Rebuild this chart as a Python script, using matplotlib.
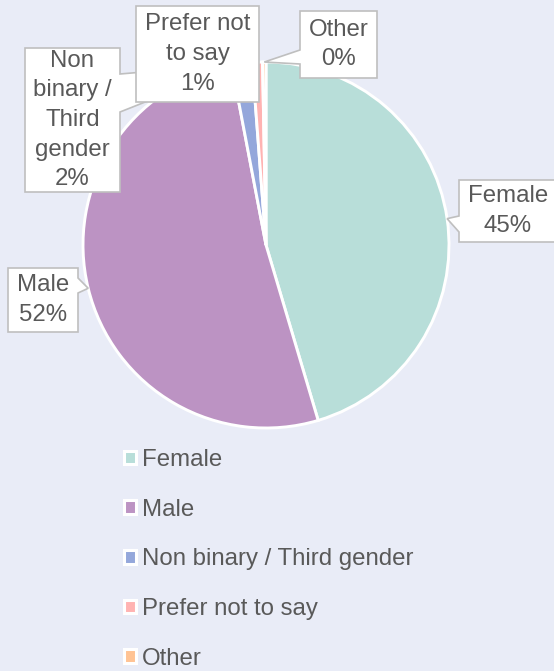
import numpy as np
import matplotlib
matplotlib.use("Agg")
import matplotlib.pyplot as plt
from matplotlib.patches import Polygon, Patch

# ---- data ----
categories = ["Female", "Male", "Non binary / Third gender", "Prefer not to say", "Other"]
values = [45.4, 51.6, 1.8, 0.9, 0.3]
label_lines = ["Female", "Male", "Non\nbinary /\nThird\ngender", "Prefer not\nto say", "Other"]
colors = ["#B8DED9", "#BC93C3", "#94A7DB", "#FFB3B2", "#FFC394"]

BG = "#E9ECF7"
TXT = "#595959"
EDGE = "#BFBFBF"
W, H = 554, 671
FS = 17.3

plt.rcParams['font.family'] = ['Liberation Sans', 'DejaVu Sans']

fig = plt.figure(figsize=(W / 100, H / 100), dpi=100, facecolor=BG)
ax = fig.add_axes([0, 0, 1, 1])
ax.set_facecolor(BG)

CX, CY, R = 266, 245, 183
wedges, _ = ax.pie(values, colors=colors, startangle=90, counterclock=False,
                   center=(CX, H - CY), radius=R,
                   wedgeprops=dict(edgecolor="white", linewidth=2.1))
for w in wedges:
    w.set_zorder(1)
ax.set_xlim(0, W)
ax.set_ylim(0, H)
ax.set_aspect('equal')
ax.axis('off')

# tips of the callouts: mid-angle of each wedge on the pie rim (pixel coords, y down)
tot = sum(values)
cum = np.cumsum([0] + values)
tips = []
for i in range(len(values)):
    mid = (cum[i] + values[i] / 2) / tot * 2 * np.pi
    tips.append((CX + R * np.sin(mid), CY - R * np.cos(mid)))

# callout layout: box (x0, y0, x1, y1) in pixel coords, pointer side & base
layout = [
    dict(box=(459, 180, 557, 242), side='left', base=(216, 232), z=3),
    dict(box=(8, 268, 78, 332), side='right', base=(278, 293), z=3),
    dict(box=(25, 48, 120, 192), side='right', base=(74, 112), z=2),
    dict(box=(136, 6, 259, 102), side=None, base=None, z=4),
    dict(box=(300, 11, 377, 78), side='left', base=(50, 64), z=3),
]


def P(x, y):
    return (x, H - y)


for i, lay in enumerate(layout):
    x0, y0, x1, y1 = lay['box']
    tx, ty = tips[i]
    if lay['side'] == 'left':
        b0, b1 = lay['base']
        pts = [P(x0, y0), P(x1, y0), P(x1, y1), P(x0, y1), P(x0, b1), P(tx, ty), P(x0, b0)]
    elif lay['side'] == 'right':
        b0, b1 = lay['base']
        pts = [P(x0, y0), P(x1, y0), P(x1, b0), P(tx, ty), P(x1, b1), P(x1, y1), P(x0, y1)]
    else:
        pts = [P(x0, y0), P(x1, y0), P(x1, y1), P(x0, y1)]
    ax.add_patch(Polygon(pts, closed=True, facecolor="white", edgecolor=EDGE,
                         linewidth=1.2, zorder=lay['z'], joinstyle='miter'))
    pct = round(values[i] / tot * 100)
    ax.text((x0 + x1) / 2, H - (y0 + y1) / 2, f"{label_lines[i]}\n{pct}%",
            ha='center', va='center', fontsize=FS, color=TXT,
            linespacing=1.45, zorder=lay['z'] + 0.5)

# legend
handles = [Patch(facecolor=c, edgecolor='white', linewidth=2.2) for c in colors]
leg = ax.legend(handles, categories, loc='upper left',
                bbox_to_anchor=(124 / W, 1 - 449 / H), bbox_transform=ax.transAxes,
                frameon=False, fontsize=FS, handlelength=0.5, handleheight=0.5,
                handletextpad=0.25, labelspacing=1.15, borderpad=0, borderaxespad=0)
for t in leg.get_texts():
    t.set_color(TXT)

fig.savefig("out.png", dpi=100, facecolor=BG)
